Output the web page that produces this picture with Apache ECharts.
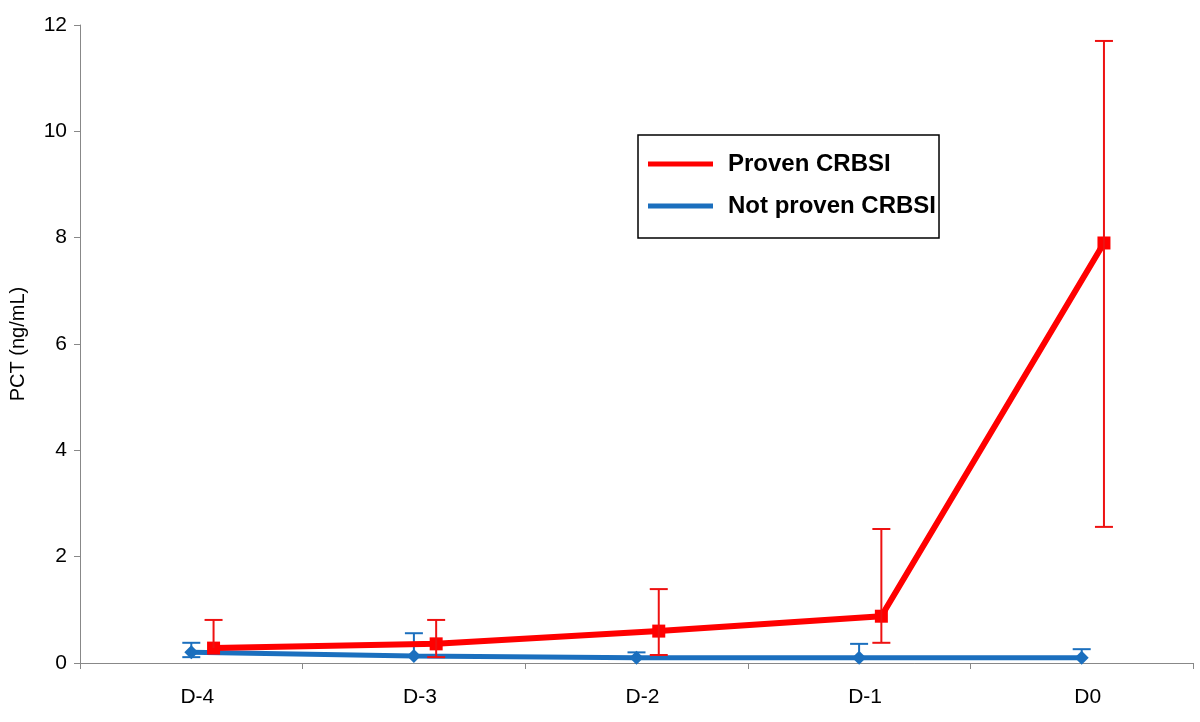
<!DOCTYPE html>
<html>
<head>
<meta charset="utf-8">
<script src="https://cdn.jsdelivr.net/npm/echarts@6/dist/echarts.min.js"></script>
<style>
  html, body { margin: 0; padding: 0; background: #fff; }
  #chart { width: 1200px; height: 722px; }
</style>
</head>
<body>
<div id="chart"></div>
<script>
// days before diagnosis
var days = ['D-4', 'D-3', 'D-2', 'D-1', 'D0'];

// PCT (ng/mL), proven CRBSI
var provenMean = [0.28, 0.36, 0.6, 0.88, 7.9];
var provenUpper = [0.81, 0.81, 1.39, 2.52, 11.7];
var provenLower = [null, 0.11, 0.15, 0.38, 2.56];

// PCT (ng/mL), not proven CRBSI
var notProvenMean = [0.2, 0.13, 0.1, 0.1, 0.1];
var notProvenUpper = [0.38, 0.56, 0.2, 0.36, 0.26];
var notProvenLower = [0.11, null, null, null, null];

var yTicks = [0, 2, 4, 6, 8, 10, 12];

// the red series sits a little right of the category centre in the original
var PROVEN_SHIFT = 0.1;
var RED = '#FF0000';
var BLUE = '#1B6FBE';
var FONT = "'Liberation Sans', Arial, sans-serif";

function linePoints(mean, shift) {
  return mean.map(function (v, i) { return [i + shift, v]; });
}
function errPoints(mean, upper, lower, shift) {
  return mean.map(function (v, i) {
    return [i + shift, v, upper[i], lower[i] == null ? v : lower[i], lower[i] == null ? 0 : 1];
  });
}

function renderErr(color) {
  return function (params, api) {
    var x = api.value(0);
    var top = api.coord([x, api.value(2)]);
    var bot = api.coord([x, api.value(3)]);
    var half = 9;
    var style = { stroke: color, lineWidth: 2 };
    var children = [
      { type: 'line', shape: { x1: top[0], y1: top[1], x2: bot[0], y2: bot[1] }, style: style },
      { type: 'line', shape: { x1: top[0] - half, y1: top[1], x2: top[0] + half, y2: top[1] }, style: style }
    ];
    if (api.value(4)) {
      children.push({ type: 'line', shape: { x1: bot[0] - half, y1: bot[1], x2: bot[0] + half, y2: bot[1] }, style: style });
    }
    return { type: 'group', children: children };
  };
}

var chart = echarts.init(document.getElementById('chart'));

var option = {
  backgroundColor: '#fff',
  animation: false,
  grid: { left: 80, right: 7, top: 25, bottom: 59, containLabel: false, outerBoundsMode: 'none' },
  legend: {
    data: ['Proven CRBSI', 'Not proven CRBSI'],
    orient: 'vertical',
    left: 638,
    top: 135,
    padding: [14, 3, 17, 10],
    itemGap: 12,
    icon: 'rect',
    itemWidth: 65,
    itemHeight: 5,
    borderColor: '#000',
    borderWidth: 1.5,
    textStyle: {
      fontFamily: FONT,
      fontWeight: 'bold',
      fontSize: 24,
      lineHeight: 30,
      color: '#000',
      padding: [0, 0, 0, 10]
    }
  },
  xAxis: [
    {
      type: 'category',
      data: days,
      boundaryGap: true,
      axisLine: { onZero: false, lineStyle: { color: '#888', width: 1 } },
      axisTick: { show: true, length: 6, lineStyle: { color: '#888' } },
      axisLabel: { color: '#000', fontSize: 21, fontFamily: FONT, margin: 24, padding: [0, 0, 0, 12] },
      splitLine: { show: false }
    },
    {
      type: 'value',
      min: -0.5,
      max: 4.5,
      show: false
    }
  ],
  yAxis: {
    type: 'value',
    min: yTicks[0],
    max: yTicks[yTicks.length - 1],
    interval: 2,
    name: 'PCT (ng/mL)',
    nameLocation: 'middle',
    nameGap: 52,
    nameTextStyle: { color: '#000', fontSize: 20, fontFamily: FONT },
    axisLine: { show: true, onZero: false, lineStyle: { color: '#888', width: 1 } },
    axisTick: { show: true, length: 6, lineStyle: { color: '#888' } },
    axisLabel: { color: '#000', fontSize: 21, fontFamily: FONT, margin: 13 },
    splitLine: { show: false }
  },
  series: [
    {
      name: 'Not proven CRBSI',
      type: 'line',
      xAxisIndex: 1,
      data: linePoints(notProvenMean, 0),
      symbol: 'diamond',
      symbolSize: 14,
      itemStyle: { color: BLUE },
      lineStyle: { color: BLUE, width: 5 },
      z: 3
    },
    {
      type: 'custom',
      xAxisIndex: 1,
      data: errPoints(notProvenMean, notProvenUpper, notProvenLower, 0),
      encode: { x: 0, y: [2, 3] },
      renderItem: renderErr(BLUE),
      z: 4
    },
    {
      name: 'Proven CRBSI',
      type: 'line',
      xAxisIndex: 1,
      data: linePoints(provenMean, PROVEN_SHIFT),
      symbol: 'rect',
      symbolSize: 13,
      itemStyle: { color: RED },
      lineStyle: { color: RED, width: 6 },
      z: 5
    },
    {
      type: 'custom',
      xAxisIndex: 1,
      data: errPoints(provenMean, provenUpper, provenLower, PROVEN_SHIFT),
      encode: { x: 0, y: [2, 3] },
      renderItem: renderErr('#EE1111'),
      z: 6
    }
  ]
};

chart.setOption(option);
</script>
</body>
</html>
